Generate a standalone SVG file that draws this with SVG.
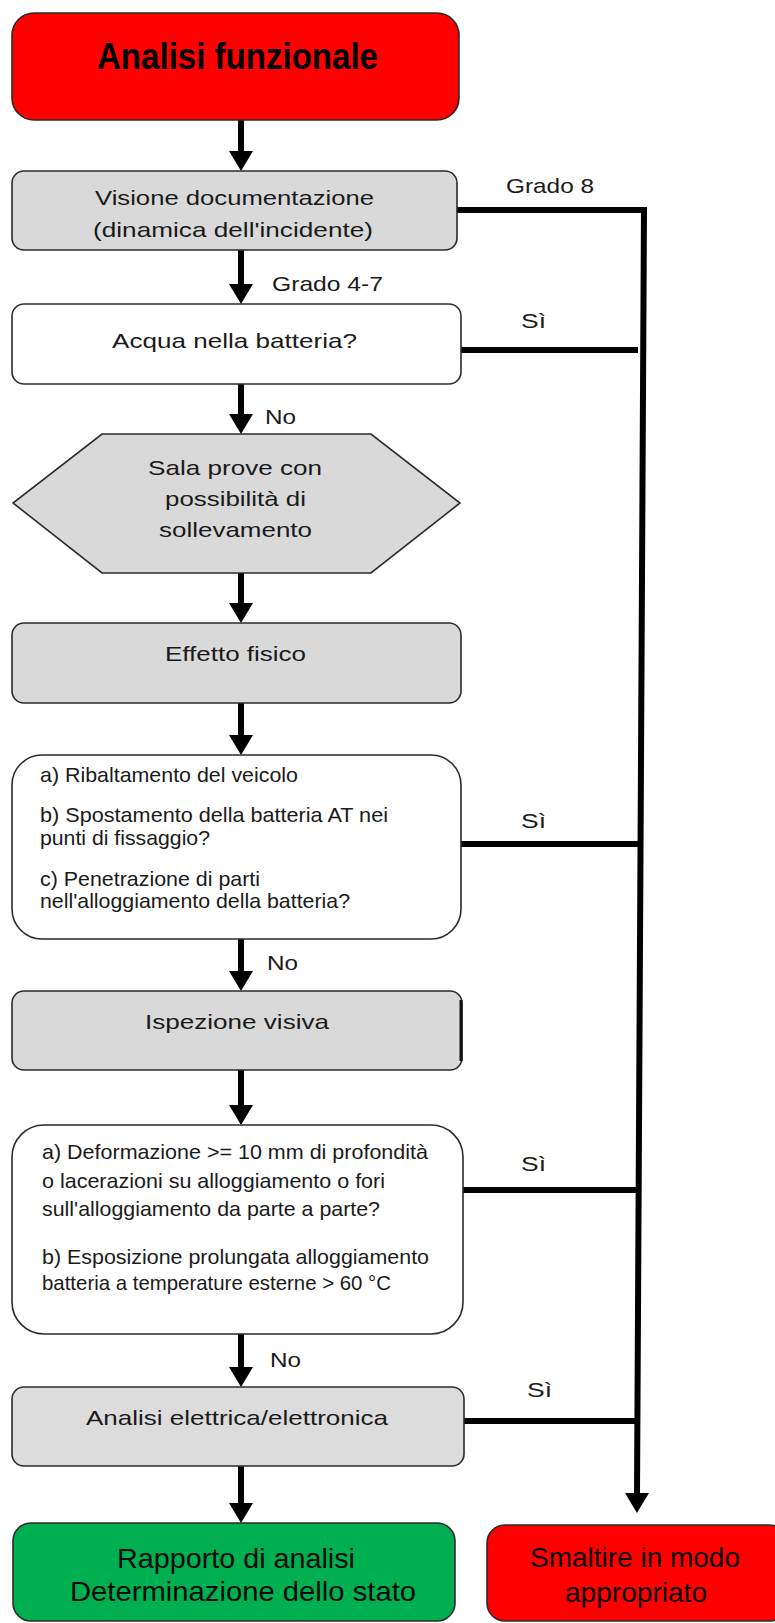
<svg xmlns="http://www.w3.org/2000/svg" width="775" height="1623" viewBox="0 0 775 1623">
<defs>
<style>
.box{stroke:#2b2b2b;stroke-width:1.6}
.red{fill:#ff0000}
.gray{fill:#d9d9d9}
.white{fill:#ffffff}
.green{fill:#00b050}
.t{font-family:"Liberation Sans",Arial,sans-serif;font-size:21px;fill:#1a1a1a}
.title{font-family:"Liberation Sans",Arial,sans-serif;font-size:37px;font-weight:bold;fill:#000}
.big{font-family:"Liberation Sans",Arial,sans-serif;font-size:28px;fill:#0a0a0a}
.conn{stroke:#000;stroke-width:6;fill:none}
</style>
<marker id="ah" viewBox="0 0 20 24" refX="2" refY="12" markerWidth="20" markerHeight="24" markerUnits="userSpaceOnUse" orient="auto">
<path d="M0,0 L20,12 L0,24 z" fill="#000"/>
</marker>
</defs>
<rect width="775" height="1623" fill="#ffffff"/>

<g id="connectors">
<line class="conn" x1="241" y1="120" x2="241" y2="153" marker-end="url(#ah)"/>
<line class="conn" x1="241" y1="250" x2="241" y2="286" marker-end="url(#ah)"/>
<line class="conn" x1="241" y1="384" x2="241" y2="416" marker-end="url(#ah)"/>
<line class="conn" x1="241" y1="573" x2="241" y2="605" marker-end="url(#ah)"/>
<line class="conn" x1="241" y1="703" x2="241" y2="737" marker-end="url(#ah)"/>
<line class="conn" x1="241" y1="939" x2="241" y2="973" marker-end="url(#ah)"/>
<line class="conn" x1="241" y1="1070" x2="241" y2="1107" marker-end="url(#ah)"/>
<line class="conn" x1="241" y1="1334" x2="241" y2="1369" marker-end="url(#ah)"/>
<line class="conn" x1="241" y1="1466" x2="241" y2="1505" marker-end="url(#ah)"/>
<path class="conn" d="M457,210 L644,210 L637,1495" stroke-linejoin="miter" marker-end="url(#ah)"/>
<line class="conn" x1="461" y1="350" x2="638" y2="350"/>
<line class="conn" x1="461" y1="844" x2="641" y2="844"/>
<line class="conn" x1="463" y1="1190" x2="639" y2="1190"/>
<line class="conn" x1="464" y1="1421" x2="637" y2="1421"/>
<text class="t" x="506" y="193" textLength="88" lengthAdjust="spacingAndGlyphs">Grado 8</text>
<text class="t" x="272" y="291" textLength="111" lengthAdjust="spacingAndGlyphs">Grado 4-7</text>
<text class="t" x="521" y="328" textLength="25" lengthAdjust="spacingAndGlyphs">Sì</text>
<text class="t" x="265" y="424" textLength="31" lengthAdjust="spacingAndGlyphs">No</text>
<text class="t" x="521" y="828" textLength="25" lengthAdjust="spacingAndGlyphs">Sì</text>
<text class="t" x="267" y="970" textLength="31" lengthAdjust="spacingAndGlyphs">No</text>
<text class="t" x="521" y="1171" textLength="25" lengthAdjust="spacingAndGlyphs">Sì</text>
<text class="t" x="270" y="1367" textLength="31" lengthAdjust="spacingAndGlyphs">No</text>
<text class="t" x="527" y="1397" textLength="25" lengthAdjust="spacingAndGlyphs">Sì</text>
</g>

<g id="node-analisi-funzionale">
<rect class="box red" x="12" y="13" width="447" height="107" rx="22" ry="22"/>
<text class="title" x="97" y="69" textLength="281" lengthAdjust="spacingAndGlyphs">Analisi funzionale</text>
</g>

<g id="node-visione">
<rect class="box gray" x="12" y="171" width="445" height="79" rx="12" ry="12"/>
<text class="t" x="95" y="205" textLength="279" lengthAdjust="spacingAndGlyphs">Visione documentazione</text>
<text class="t" x="93" y="237" textLength="280" lengthAdjust="spacingAndGlyphs">(dinamica dell'incidente)</text>
</g>

<g id="node-acqua">
<rect class="box white" x="12" y="304" width="449" height="80" rx="12" ry="12"/>
<text class="t" x="112" y="348" textLength="245" lengthAdjust="spacingAndGlyphs">Acqua nella batteria?</text>
</g>

<g id="node-sala-prove">
<polygon class="box gray" points="102,434 371,434 460,503 371,573 102,573 13,503"/>
<text class="t" x="148" y="475" textLength="174" lengthAdjust="spacingAndGlyphs">Sala prove con</text>
<text class="t" x="165" y="506" textLength="141" lengthAdjust="spacingAndGlyphs">possibilità di</text>
<text class="t" x="159" y="537" textLength="153" lengthAdjust="spacingAndGlyphs">sollevamento</text>
</g>

<g id="node-effetto-fisico">
<rect class="box gray" x="12" y="623" width="449" height="80" rx="12" ry="12"/>
<text class="t" x="165" y="661" textLength="141" lengthAdjust="spacingAndGlyphs">Effetto fisico</text>
</g>

<g id="node-domande-1">
<rect class="box white" x="12" y="755" width="449" height="184" rx="30" ry="30"/>
<text class="t" x="40" y="782" textLength="258" lengthAdjust="spacingAndGlyphs">a) Ribaltamento del veicolo</text>
<text class="t" x="40" y="822" textLength="348" lengthAdjust="spacingAndGlyphs">b) Spostamento della batteria AT nei</text>
<text class="t" x="40" y="845" textLength="170" lengthAdjust="spacingAndGlyphs">punti di fissaggio?</text>
<text class="t" x="40" y="886" textLength="220" lengthAdjust="spacingAndGlyphs">c) Penetrazione di parti</text>
<text class="t" x="40" y="908" textLength="310" lengthAdjust="spacingAndGlyphs">nell'alloggiamento della batteria?</text>
</g>

<g id="node-ispezione">
<rect class="box gray" x="12" y="991" width="450" height="79" rx="12" ry="12"/>
<line x1="461" y1="1000" x2="461" y2="1061" stroke="#111" stroke-width="3"/>
<text class="t" x="145" y="1029" textLength="184" lengthAdjust="spacingAndGlyphs">Ispezione visiva</text>
</g>

<g id="node-domande-2">
<rect class="box white" x="12" y="1125" width="451" height="209" rx="32" ry="32"/>
<text class="t" x="42" y="1159" textLength="386" lengthAdjust="spacingAndGlyphs">a) Deformazione &gt;= 10 mm di profondità</text>
<text class="t" x="42" y="1188" textLength="343" lengthAdjust="spacingAndGlyphs">o lacerazioni su alloggiamento o fori</text>
<text class="t" x="42" y="1216" textLength="338" lengthAdjust="spacingAndGlyphs">sull'alloggiamento da parte a parte?</text>
<text class="t" x="42" y="1264" textLength="387" lengthAdjust="spacingAndGlyphs">b) Esposizione prolungata alloggiamento</text>
<text class="t" x="42" y="1290" textLength="349" lengthAdjust="spacingAndGlyphs">batteria a temperature esterne &gt; 60 °C</text>
</g>

<g id="node-analisi-elettrica">
<rect class="box" fill="#dcdcdc" x="12" y="1387" width="452" height="79" rx="12" ry="12"/>
<text class="t" x="86" y="1425" textLength="302" lengthAdjust="spacingAndGlyphs">Analisi elettrica/elettronica</text>
</g>

<g id="node-rapporto">
<rect class="box green" x="13" y="1523" width="442" height="98" rx="18" ry="18"/>
<text class="big" x="117" y="1568" textLength="238" lengthAdjust="spacingAndGlyphs">Rapporto di analisi</text>
<text class="big" x="70" y="1601" textLength="346" lengthAdjust="spacingAndGlyphs">Determinazione dello stato</text>
</g>

<g id="node-smaltire">
<rect class="box red" x="487" y="1525" width="300" height="96" rx="18" ry="18"/>
<text class="big" x="530" y="1567" textLength="210" lengthAdjust="spacingAndGlyphs">Smaltire in modo</text>
<text class="big" x="565" y="1602" textLength="142" lengthAdjust="spacingAndGlyphs">appropriato</text>
</g>
</svg>
